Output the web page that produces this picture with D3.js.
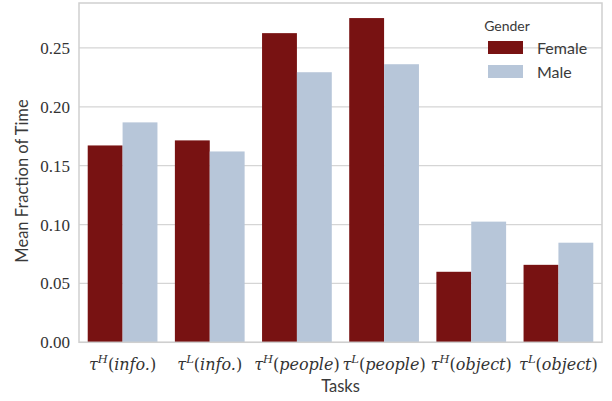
<!DOCTYPE html>
<html><head><meta charset="utf-8">
<script src="https://cdn.jsdelivr.net/npm/d3@7"></script>
<style>body{margin:0;background:#fff}svg{display:block}</style>
</head><body><svg id="c" width="612" height="401"></svg>
<script>
const tasks = [
  {sup:"H", name:"info."}, {sup:"L", name:"info."},
  {sup:"H", name:"people"}, {sup:"L", name:"people"},
  {sup:"H", name:"object"}, {sup:"L", name:"object"}
];
const genders = ["Female", "Male"];
const female = [0.1672, 0.1715, 0.2626, 0.2754, 0.0599, 0.0658];
const male   = [0.1868, 0.1621, 0.2294, 0.2362, 0.1025, 0.0846];
const yTicks = [0.00, 0.05, 0.10, 0.15, 0.20, 0.25];
const colors = {Female:"#781212", Male:"#b7c6d9"};

const svg = d3.select("#c");
const m = {l:79, r:602, t:3, b:342.3};
const x = d3.scaleBand().domain(d3.range(tasks.length)).range([m.l, m.r]).paddingInner(0.2).paddingOuter(0.1);
const x1 = d3.scaleBand().domain(genders).range([0, x.bandwidth()]);
const y = d3.scaleLinear().domain([0, 0.2882]).range([m.b, m.t]);

// grid
svg.append("g").selectAll("line").data(yTicks).join("line")
  .attr("x1", m.l).attr("x2", m.r).attr("y1", d=>y(d)).attr("y2", d=>y(d))
  .attr("stroke", "#d5d5d5").attr("stroke-width", 1.3);

// bars
const series = {Female: female, Male: male};
genders.forEach(g => {
  svg.append("g").selectAll("rect").data(series[g]).join("rect")
    .attr("x", (d,i)=>x(i)+x1(g)).attr("width", x1.bandwidth())
    .attr("y", d=>y(d)).attr("height", d=>y(0)-y(d))
    .attr("fill", colors[g]);
});

// spines
svg.append("rect").attr("x", m.l).attr("y", m.t).attr("width", m.r-m.l).attr("height", m.b-m.t)
  .attr("fill","none").attr("stroke","#cfcfcf").attr("stroke-width",1.5);

// y axis
const ya = d3.axisLeft(y).tickValues(yTicks).tickFormat(d3.format(".2f")).tickSize(0).tickPadding(9);
svg.append("g").attr("transform",`translate(${m.l},0)`).call(ya)
  .call(g=>g.select(".domain").remove())
  .selectAll("text").attr("font-family","'Liberation Serif', serif").attr("font-size",17).attr("fill","#333");

// x axis
const xa = d3.axisBottom(x).tickSize(0).tickFormat("");
const xg = svg.append("g").attr("transform",`translate(0,${m.b})`).call(xa);
xg.select(".domain").remove();
xg.selectAll(".tick").each(function(i){
  const t = tasks[i];
  const txt = d3.select(this).append("text").attr("y", 28).attr("text-anchor","middle")
    .attr("font-family","'DejaVu Serif', serif").attr("font-size",16).attr("fill","#333");
  txt.append("tspan").attr("font-style","italic").text("τ");
  txt.append("tspan").attr("font-style","italic").attr("font-size",11.5).attr("dy",-7).text(t.sup);
  txt.append("tspan").attr("dy",7).text("(");
  txt.append("tspan").attr("font-style","italic").text(t.name);
  txt.append("tspan").text(")");
});

// axis labels
svg.append("text").attr("x", 340.5).attr("y", 392).attr("text-anchor","middle")
  .attr("font-family","Lato, sans-serif").attr("font-size",16.5).attr("fill","#3a3a3a").text("Tasks");
svg.append("text").attr("transform","translate(28,181) rotate(-90)").attr("text-anchor","middle")
  .attr("font-family","Lato, sans-serif").attr("font-size",16.5).attr("fill","#3a3a3a").text("Mean Fraction of Time");

// legend
const lg = svg.append("g");
lg.append("text").attr("x", 507).attr("y", 31).attr("text-anchor","middle")
  .attr("font-family","Lato, sans-serif").attr("font-size",14).attr("fill","#3a3a3a").text("Gender");
genders.forEach((g,i)=>{
  lg.append("rect").attr("x",488).attr("y",41+i*24).attr("width",35).attr("height",13).attr("fill",colors[g]);
  lg.append("text").attr("x",537).attr("y",53.5+i*24).attr("font-family","Lato, sans-serif")
    .attr("font-size",16).attr("fill","#3a3a3a").text(g);
});
</script></body></html>
